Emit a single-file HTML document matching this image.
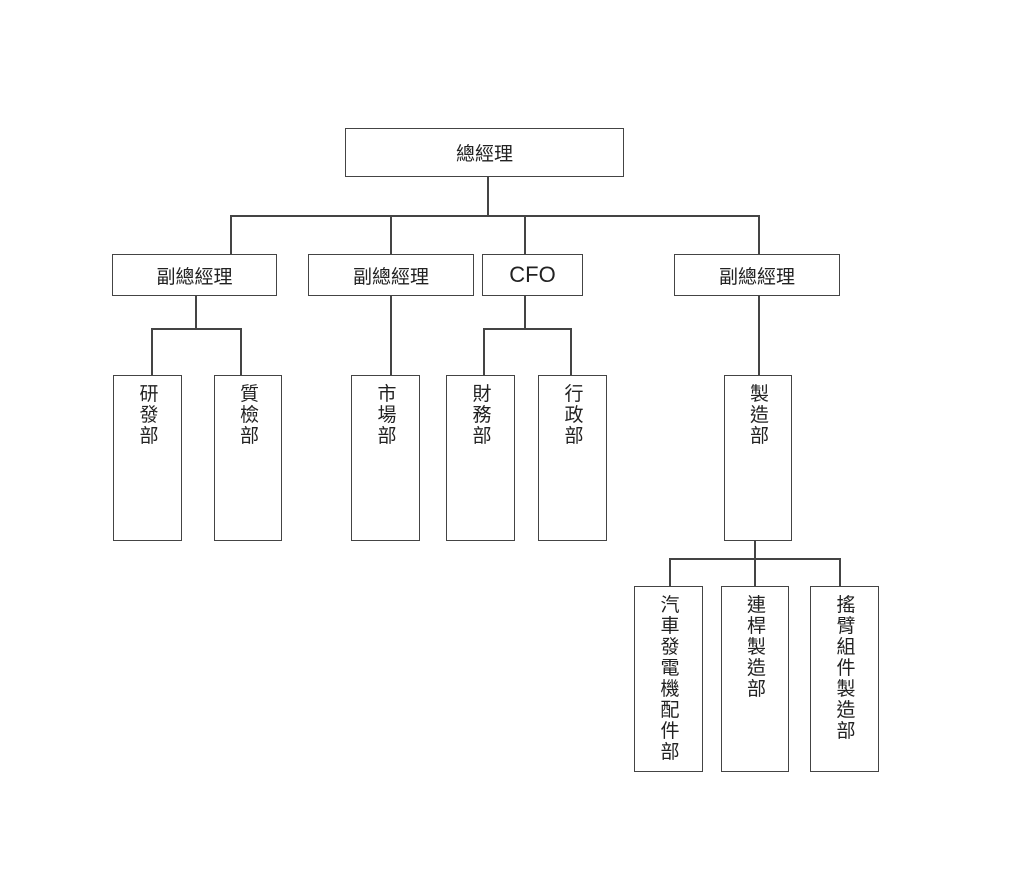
<!DOCTYPE html>
<html><head><meta charset="utf-8"><style>
body{margin:0;width:1024px;height:882px;background:#fff;position:relative;overflow:hidden;font-family:"Liberation Sans","Noto Sans CJK TC",sans-serif;color:#222}
.b{position:absolute;border:1.5px solid #444;box-sizing:border-box;background:#fff}
.h{display:flex;align-items:center;justify-content:center;font-size:19px}
.v{text-align:center;font-size:19px;line-height:21px;padding-top:8px;padding-left:3px}
.l{position:absolute;background:#444}
</style></head><body>
<div class="l" style="left:487px;top:176px;width:1.5px;height:40px"></div>
<div class="l" style="left:230px;top:215px;width:529px;height:1.5px"></div>
<div class="l" style="left:230px;top:215px;width:1.5px;height:39px"></div>
<div class="l" style="left:390px;top:215px;width:1.5px;height:39px"></div>
<div class="l" style="left:524px;top:215px;width:1.5px;height:39px"></div>
<div class="l" style="left:758px;top:215px;width:1.5px;height:39px"></div>
<div class="l" style="left:195px;top:295px;width:1.5px;height:33px"></div>
<div class="l" style="left:151px;top:328px;width:90px;height:1.5px"></div>
<div class="l" style="left:151px;top:328px;width:1.5px;height:47px"></div>
<div class="l" style="left:240px;top:328px;width:1.5px;height:47px"></div>
<div class="l" style="left:390px;top:295px;width:1.5px;height:80px"></div>
<div class="l" style="left:524px;top:295px;width:1.5px;height:33px"></div>
<div class="l" style="left:483px;top:328px;width:88px;height:1.5px"></div>
<div class="l" style="left:483px;top:328px;width:1.5px;height:47px"></div>
<div class="l" style="left:570px;top:328px;width:1.5px;height:47px"></div>
<div class="l" style="left:758px;top:295px;width:1.5px;height:80px"></div>
<div class="l" style="left:754px;top:540px;width:1.5px;height:46px"></div>
<div class="l" style="left:669px;top:558px;width:171px;height:1.5px"></div>
<div class="l" style="left:669px;top:558px;width:1.5px;height:28px"></div>
<div class="l" style="left:839px;top:558px;width:1.5px;height:28px"></div>
<div class="b h" style="left:345px;top:128px;width:279px;height:49px">總經理</div>
<div class="b h" style="left:112px;top:254px;width:165px;height:42px">副總經理</div>
<div class="b h" style="left:308px;top:254px;width:166px;height:42px">副總經理</div>
<div class="b h" style="left:482px;top:254px;width:101px;height:42px;font-size:22px">CFO</div>
<div class="b h" style="left:674px;top:254px;width:166px;height:42px">副總經理</div>
<div class="b v" style="left:113px;top:375px;width:69px;height:166px">研<br>發<br>部</div>
<div class="b v" style="left:214px;top:375px;width:68px;height:166px">質<br>檢<br>部</div>
<div class="b v" style="left:351px;top:375px;width:69px;height:166px">市<br>場<br>部</div>
<div class="b v" style="left:446px;top:375px;width:69px;height:166px">財<br>務<br>部</div>
<div class="b v" style="left:538px;top:375px;width:69px;height:166px">行<br>政<br>部</div>
<div class="b v" style="left:724px;top:375px;width:68px;height:166px">製<br>造<br>部</div>
<div class="b v" style="left:634px;top:586px;width:69px;height:186px">汽<br>車<br>發<br>電<br>機<br>配<br>件<br>部</div>
<div class="b v" style="left:721px;top:586px;width:68px;height:186px">連<br>桿<br>製<br>造<br>部</div>
<div class="b v" style="left:810px;top:586px;width:69px;height:186px">搖<br>臂<br>組<br>件<br>製<br>造<br>部</div>
</body></html>
